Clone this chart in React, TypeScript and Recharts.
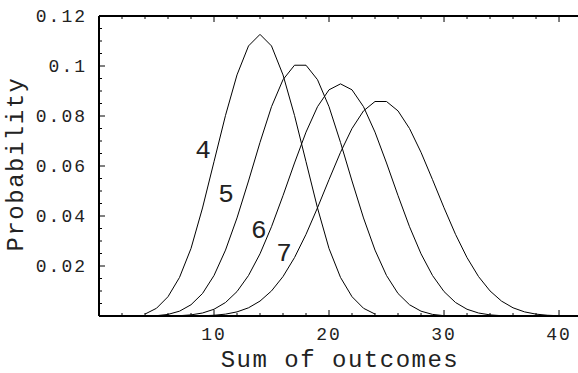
import React from "react";
import { LineChart, Line, XAxis, YAxis, ReferenceDot } from "recharts";

// sums of n six-sided dice and their probabilities
const sums4 = [4, 5, 6, 7, 8, 9, 10, 11, 12, 13, 14, 15, 16, 17, 18, 19, 20, 21, 22, 23, 24];
const probs4 = [
  0.00077, 0.00309, 0.00772, 0.01543, 0.02701, 0.04321, 0.06173, 0.08025, 0.09645, 0.10802, 0.11265,
  0.10802, 0.09645, 0.08025, 0.06173, 0.04321, 0.02701, 0.01543, 0.00772, 0.00309, 0.00077,
];

const sums5 = [5, 6, 7, 8, 9, 10, 11, 12, 13, 14, 15, 16, 17, 18, 19, 20, 21, 22, 23, 24, 25, 26, 27, 28, 29, 30];
const probs5 = [
  0.00013, 0.00064, 0.00193, 0.0045, 0.009, 0.0162, 0.02636, 0.03922, 0.05401, 0.06944, 0.08372, 0.09452, 0.10031,
  0.10031, 0.09452, 0.08372, 0.06944, 0.05401, 0.03922, 0.02636, 0.0162, 0.009, 0.0045, 0.00193, 0.00064, 0.00013,
];

const sums6 = [
  6, 7, 8, 9, 10, 11, 12, 13, 14, 15, 16, 17, 18, 19, 20, 21, 22, 23, 24, 25, 26, 27, 28, 29, 30, 31, 32, 33, 34, 35, 36,
];
const probs6 = [
  0.00002, 0.00013, 0.00045, 0.0012, 0.0027, 0.0054, 0.00977, 0.0162, 0.02488, 0.03571, 0.04816, 0.06121, 0.07354,
  0.08372, 0.09047, 0.09285, 0.09047, 0.08372, 0.07354, 0.06121, 0.04816, 0.03571, 0.02488, 0.0162, 0.00977, 0.0054,
  0.0027, 0.0012, 0.00045, 0.00013, 0.00002,
];

const sums7 = [
  7, 8, 9, 10, 11, 12, 13, 14, 15, 16, 17, 18, 19, 20, 21, 22, 23, 24, 25, 26, 27, 28, 29, 30, 31, 32, 33, 34, 35, 36,
  37, 38, 39, 40, 41, 42,
];
const probs7 = [
  0.0000036, 0.000025, 0.0001, 0.0003, 0.00075, 0.00165, 0.00328, 0.00596, 0.01003, 0.01578, 0.02336, 0.03266,
  0.04329, 0.05454, 0.06547, 0.07499, 0.08204, 0.0858, 0.0858, 0.08204, 0.07499, 0.06547, 0.05454, 0.04329, 0.03266,
  0.02336, 0.01578, 0.01003, 0.00596, 0.00328, 0.00165, 0.00075, 0.0003, 0.0001, 0.000025, 0.0000036,
];

const xTicks = [2, 4, 6, 8, 10, 12, 14, 16, 18, 20, 22, 24, 26, 28, 30, 32, 34, 36, 38, 40];
const xLabels = [10, 20, 30, 40];
const yTicks = [
  0.005, 0.01, 0.015, 0.02, 0.025, 0.03, 0.035, 0.04, 0.045, 0.05, 0.055, 0.06, 0.065, 0.07, 0.075, 0.08, 0.085,
  0.09, 0.095, 0.1, 0.105, 0.11, 0.115, 0.12,
];
const yLabels = [0.02, 0.04, 0.06, 0.08, 0.1, 0.12];

// curve names and where they sit in data space
const curveNames = ["4", "5", "6", "7"];
const curveNameX = [9.05, 11.05, 13.9, 16.1];
const curveNameY = [0.0668, 0.0492, 0.0348, 0.0256];

const series = [
  { key: "n4", sums: sums4, probs: probs4 },
  { key: "n5", sums: sums5, probs: probs5 },
  { key: "n6", sums: sums6, probs: probs6 },
  { key: "n7", sums: sums7, probs: probs7 },
];

const allSums = [4, 5, 6, ...sums7];

const mono = "'Liberation Mono', 'DejaVu Sans Mono', monospace";
const ink = "#222";

const isLabel = (v: number, list: number[]) => list.some((l) => Math.abs(l - v) < 1e-9);

const BottomTick = (props: any) => {
  const { x, y, payload } = props;
  const major = isLabel(payload.value, xLabels);
  return (
    <g>
      <line x1={x} x2={x} y1={y} y2={y - (major ? 6 : 3)} stroke="#000" strokeWidth={1} />
      {major && (
        <text x={x} y={y + 24} textAnchor="middle" fontFamily={mono} fontSize={18} letterSpacing={2} fill={ink}>
          {payload.value}
        </text>
      )}
    </g>
  );
};

const TopTick = (props: any) => {
  const { x, y, payload } = props;
  const major = isLabel(payload.value, xLabels);
  return <line x1={x} x2={x} y1={y} y2={y + (major ? 6 : 3)} stroke="#000" strokeWidth={1} />;
};

const LeftTick = (props: any) => {
  const { x, y, payload } = props;
  const major = isLabel(payload.value, yLabels);
  return (
    <g>
      <line x1={x} x2={x + (major ? 6 : 3)} y1={y} y2={y} stroke="#000" strokeWidth={1} />
      {major && (
        <text x={x - 12} y={y + 6} textAnchor="end" fontFamily={mono} fontSize={18} letterSpacing={2} fill={ink}>
          {String(payload.value)}
        </text>
      )}
    </g>
  );
};

export default function App() {
  const data = allSums.map((s) => {
    const row: Record<string, number | undefined> = { sum: s };
    series.forEach((sr) => {
      const i = sr.sums.indexOf(s);
      row[sr.key] = i >= 0 ? sr.probs[i] : undefined;
    });
    return row;
  });

  return (
    <div style={{ position: "absolute", left: 0, top: 0, background: "#fff" }}>
      <LineChart width={578} height={373} data={data} margin={{ top: 6, right: 0, bottom: 27, left: 39 }}>
        <XAxis
          dataKey="sum"
          type="number"
          domain={[0, 41.65]}
          allowDataOverflow
          ticks={xTicks}
          interval={0}
          height={30}
          tickSize={0}
          tickMargin={0}
          tickLine={false}
          tick={<BottomTick />}
          axisLine={{ stroke: "#000", strokeWidth: 2 }}
        />
        <XAxis
          xAxisId="top"
          orientation="top"
          dataKey="sum"
          type="number"
          domain={[0, 41.65]}
          allowDataOverflow
          ticks={xTicks}
          interval={0}
          height={10}
          tickSize={0}
          tickMargin={0}
          tickLine={false}
          tick={<TopTick />}
          axisLine={{ stroke: "#000", strokeWidth: 2 }}
        />
        <YAxis
          type="number"
          domain={[0, 0.12]}
          allowDataOverflow
          ticks={yTicks}
          interval={0}
          width={60}
          tickSize={0}
          tickMargin={0}
          tickLine={false}
          tick={<LeftTick />}
          axisLine={{ stroke: "#000", strokeWidth: 2 }}
        />
        {series.map((sr) => (
          <Line
            key={sr.key}
            dataKey={sr.key}
            type="linear"
            stroke="#000"
            strokeWidth={1}
            dot={false}
            activeDot={false}
            connectNulls={false}
            isAnimationActive={false}
          />
        ))}
        {curveNames.map((name, i) => (
          <ReferenceDot
            key={name}
            x={curveNameX[i]}
            y={curveNameY[i]}
            r={0}
            shape={(p: any) => (
              <text x={p.cx} y={p.cy + 9} textAnchor="middle" fontFamily={mono} fontSize={26} fill={ink}>
                {name}
              </text>
            )}
          />
        ))}
      </LineChart>
      <svg width={578} height={373} style={{ position: "absolute", left: 0, top: 0, pointerEvents: "none" }}>
        <text x={340} y={367} textAnchor="middle" fontFamily={mono} fontSize={24} letterSpacing={1.5} fill={ink}>
          Sum of outcomes
        </text>
        <text
          transform="translate(23,164) rotate(-90)"
          textAnchor="middle"
          fontFamily={mono}
          fontSize={24}
          letterSpacing={1.5}
          fill={ink}
        >
          Probability
        </text>
      </svg>
    </div>
  );
}
